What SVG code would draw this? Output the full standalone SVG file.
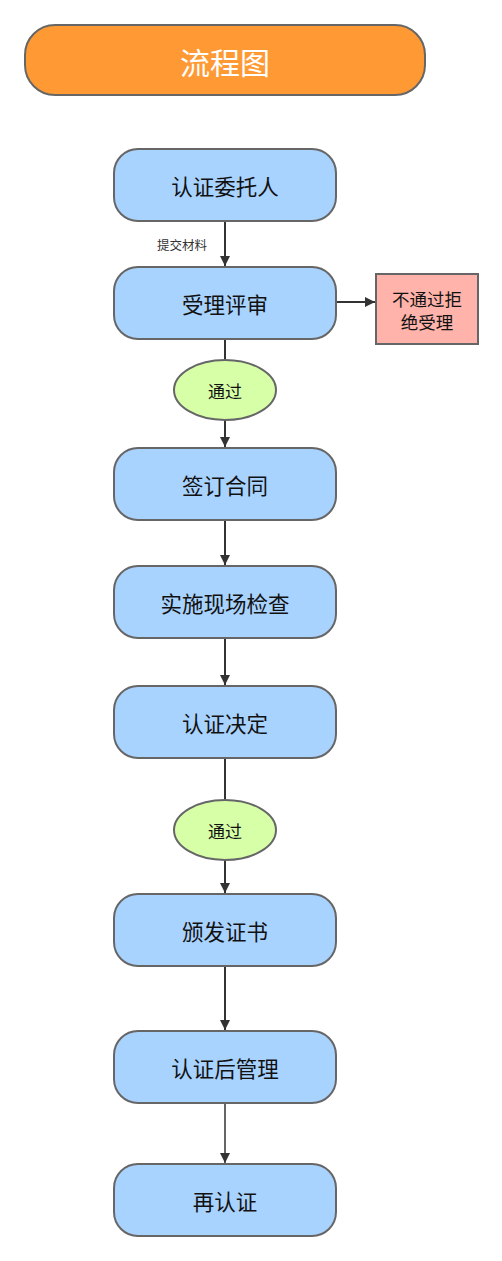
<svg xmlns="http://www.w3.org/2000/svg" width="502" height="1261" viewBox="0 0 502 1261">
<defs>
<style>
.t{font-family:"Noto Sans CJK SC","Liberation Sans",sans-serif;text-anchor:middle;dominant-baseline:central}
.n rect{fill:#A9D3FF;stroke:#666;stroke-width:2}
.n text{font-size:21.5px;fill:#111}
.e ellipse{fill:#D6FFA8;stroke:#666;stroke-width:2}
.e text{font-size:17px;fill:#111}
.c line{stroke:#333;stroke-width:2}
</style>
<marker id="ah" markerWidth="10" markerHeight="12" refX="10" refY="5" orient="auto" markerUnits="userSpaceOnUse">
<path d="M0,0 L10,5 L0,10 Z" fill="#333"/>
</marker>
</defs>
<rect width="502" height="1261" fill="#fff"/>
<g id="title"><rect x="25" y="25" width="400" height="70" rx="30" fill="#FF9933" stroke="#666" stroke-width="2"/><text class="t" x="225" y="61" font-size="30" fill="#fff">流程图</text></g>
<g class="c" id="connectors">
<line x1="225" y1="221" x2="225" y2="266" marker-end="url(#ah)"/>
<line x1="336" y1="302" x2="375" y2="302" marker-end="url(#ah)"/>
<line x1="225" y1="339" x2="225" y2="360"/>
<line x1="225" y1="420" x2="225" y2="447" marker-end="url(#ah)"/>
<line x1="225" y1="520" x2="225" y2="565" marker-end="url(#ah)"/>
<line x1="225" y1="638" x2="225" y2="685" marker-end="url(#ah)"/>
<line x1="225" y1="758" x2="225" y2="800"/>
<line x1="225" y1="860" x2="225" y2="893" marker-end="url(#ah)"/>
<line x1="225" y1="966" x2="225" y2="1030" marker-end="url(#ah)"/>
<line x1="225" y1="1103" x2="225" y2="1163" marker-end="url(#ah)" style="stroke-width:1.5"/>
<text class="t" x="182" y="244" font-size="12.5" fill="#333">提交材料</text>
</g>
<g class="n" id="n1"><rect x="114" y="149" width="222" height="72" rx="24"/><text class="t" x="225" y="185">认证委托人</text></g>
<g class="n" id="n2"><rect x="114" y="267" width="222" height="72" rx="24"/><text class="t" x="225" y="303">受理评审</text></g>
<g id="reject"><rect x="376" y="274" width="102" height="70" fill="#FFB3AB" stroke="#666" stroke-width="2"/><text class="t" x="427" y="298" font-size="17.5" fill="#111">不通过拒</text><text class="t" x="427" y="321" font-size="17.5" fill="#111">绝受理</text></g>
<g class="e" id="pass1"><ellipse cx="225" cy="390" rx="51" ry="30"/><text class="t" x="225" y="390">通过</text></g>
<g class="n" id="n3"><rect x="114" y="448" width="222" height="72" rx="24"/><text class="t" x="225" y="484">签订合同</text></g>
<g class="n" id="n4"><rect x="114" y="566" width="222" height="72" rx="24"/><text class="t" x="225" y="602">实施现场检查</text></g>
<g class="n" id="n5"><rect x="114" y="686" width="222" height="72" rx="24"/><text class="t" x="225" y="722">认证决定</text></g>
<g class="e" id="pass2"><ellipse cx="225" cy="830" rx="51" ry="30"/><text class="t" x="225" y="830">通过</text></g>
<g class="n" id="n6"><rect x="114" y="894" width="222" height="72" rx="24"/><text class="t" x="225" y="930">颁发证书</text></g>
<g class="n" id="n7"><rect x="114" y="1031" width="222" height="72" rx="24"/><text class="t" x="225" y="1067">认证后管理</text></g>
<g class="n" id="n8"><rect x="114" y="1164" width="222" height="72" rx="24"/><text class="t" x="225" y="1200">再认证</text></g>
</svg>
